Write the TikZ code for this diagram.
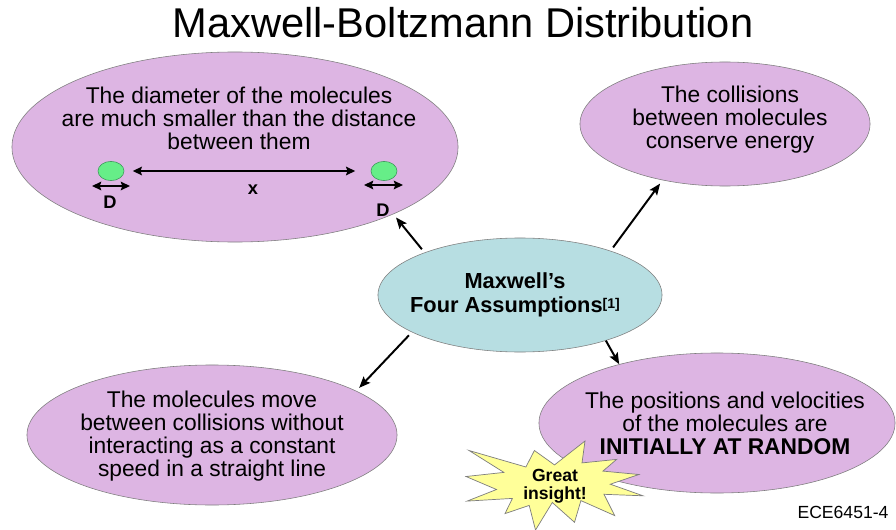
\documentclass[tikz,border=0pt]{standalone}
\usepackage{fontspec}
\setmainfont{Liberation Sans}
\usetikzlibrary{shapes.geometric,arrows.meta}

\definecolor{lilac}{RGB}{221,181,227}
\definecolor{aqua}{RGB}{183,222,226}
\definecolor{mint}{RGB}{102,238,136}
\definecolor{mintedge}{RGB}{60,150,90}
\definecolor{burstfill}{RGB}{255,255,153}
\definecolor{edgegray}{RGB}{125,125,125}

\begin{document}
\begin{tikzpicture}[x=0.025cm, y=0.025cm,
    bubble/.style={ellipse, draw=edgegray, fill=lilac, inner sep=0pt},
    hub/.style={ellipse, draw=edgegray, fill=aqua, inner sep=0pt},
    txt/.style={align=center, font=\fontsize{16.2}{16.3}\selectfont},
    link/.style={-{Stealth[length=8pt,width=6.5pt,inset=1.5pt]}, line width=1.4pt, shorten >=3pt, shorten <=3pt},
    dimarrow/.style={{Stealth[length=6.5pt,width=6pt,inset=1pt]}-{Stealth[length=6.5pt,width=6pt,inset=1pt]}, line width=1.4pt},
    molecule/.style={ellipse, draw=mintedge, fill=mint, inner sep=0pt, minimum width=0.65cm, minimum height=0.48cm},
    dimlabel/.style={font=\bfseries\fontsize{13}{13}\selectfont}]
    \useasboundingbox (0,0) rectangle (896,529);

    % Title
    \node[anchor=base, font=\fontsize{29.6}{32}\selectfont] (title) at (463,491) {Maxwell-Boltzmann Distribution};

    % Bubbles
    \node[bubble, minimum width=11.15cm, minimum height=4.75cm] (size) at (235,382) {};
    \node[bubble, minimum width=7.25cm, minimum height=3.1cm] (coll) at (725,405) {};
    \node[bubble, minimum width=9.25cm, minimum height=3.5cm] (move) at (212,94) {};
    \node[bubble, minimum width=8.9cm, minimum height=3.5cm] (rand) at (717,106) {};
    \node[hub, minimum width=7.1cm, minimum height=2.85cm] (hub) at (520,234) {};

    % Bubble texts
    \node[txt] (sizetext) at (239,411) {The diameter of the molecules\\are much smaller than the distance\\between them};
    \node[txt] (colltext) at (730,409) {The collisions\\between molecules\\conserve energy};
    \node[txt] (movetext) at (212,93) {The molecules move\\between collisions without\\interacting as a constant\\speed in a straight line};
    \node[txt] (randtext) at (725,106) {The positions and velocities\\of the molecules are\\\textbf{INITIALLY AT RANDOM}};
    \node[align=center, font=\bfseries\fontsize{15.5}{17}\selectfont] (hubtext) at (515,234) {Maxwell’s\\Four Assumptions{\fontsize{10}{10}\selectfont\raisebox{0.5ex}{[1]}}};

    % Molecules
    \node[molecule] (mL) at (111,358) {};
    \node[molecule] (mR) at (384,358) {};
    \draw[dimarrow, shorten >=11pt, shorten <=6pt] (mL) -- (mR);
    \node[dimlabel] (xlab) at (253,339) {x};
    \coordinate (dL1) at (92,343);
    \coordinate (dL2) at (130,343);
    \coordinate (dR1) at (364,344);
    \coordinate (dR2) at (403,344);
    \draw[dimarrow] (dL1) -- (dL2);
    \draw[dimarrow] (dR1) -- (dR2);
    \node[dimlabel] (dLlab) at (110,327) {D};
    \node[dimlabel] (dRlab) at (383,319) {D};

    % Arrows from the hub
    \draw[link] (hub.156) -- (size.-23);
    \draw[link] (hub.26) -- (coll.222);
    \draw[link] (hub.199) -- (move.17);
    \draw[link, shorten >=0pt, shorten <=0pt] (hub.-28) -- (rand.149);

    % Burst
    \draw[draw=edgegray, fill=burstfill, line width=0.5pt]
        (554.5,64.1) -- (585,88) -- (582,66.1) -- (616.6,69.6) -- (602.9,57.9) -- (638.9,54.5)
        -- (610.3,44.8) -- (643,33.2) -- (604,34.7) -- (614.7,13.4) -- (580.9,28.4) -- (574.5,6.7)
        -- (552.3,26.5) -- (535.5,-1) -- (529.2,23.6) -- (505,15.4) -- (512.4,30.6) -- (467.1,27.9)
        -- (496.5,39.5) -- (466,52.5) -- (503.9,56.6) -- (469,78.5) -- (525.9,62) -- (534.4,78.5) -- cycle;
    \node[align=center, font=\bfseries\fontsize{12.5}{12.8}\selectfont] (burst) at (555,43) {Great\\insight!};

    % Slide tag
    \node[font=\fontsize{12.5}{13}\selectfont] (tag) at (843,17) {ECE6451-4};
\end{tikzpicture}
\end{document}
